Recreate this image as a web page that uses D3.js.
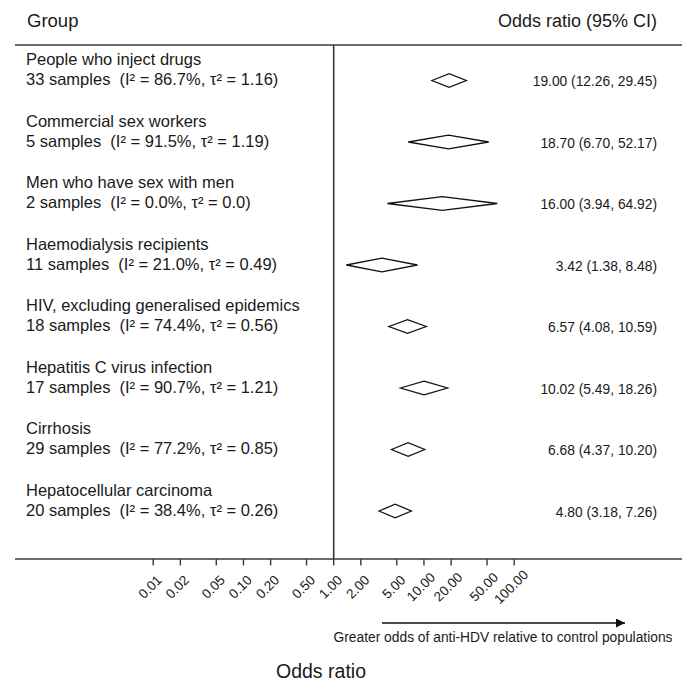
<!DOCTYPE html>
<html>
<head>
<meta charset="utf-8">
<script src="https://cdn.jsdelivr.net/npm/d3@7/dist/d3.min.js"></script>
<style>
  html, body { margin: 0; padding: 0; background: #fff; }
  svg { display: block; font-family: "Liberation Sans", Arial, Helvetica, sans-serif; }
  text { white-space: pre; fill: #1a1a1a; }
</style>
</head>
<body>
<svg id="chart" width="692" height="692"></svg>
<script>
const groups = [
  "People who inject drugs",
  "Commercial sex workers",
  "Men who have sex with men",
  "Haemodialysis recipients",
  "HIV, excluding generalised epidemics",
  "Hepatitis C virus infection",
  "Cirrhosis",
  "Hepatocellular carcinoma"
];
const samples = [33, 5, 2, 11, 18, 17, 29, 20];
const i2 = ["86.7%", "91.5%", "0.0%", "21.0%", "74.4%", "90.7%", "77.2%", "38.4%"];
const tau2 = ["1.16", "1.19", "0.0", "0.49", "0.56", "1.21", "0.85", "0.26"];
const oddsRatio = [19.00, 18.70, 16.00, 3.42, 6.57, 10.02, 6.68, 4.80];
const lower = [12.26, 6.70, 3.94, 1.38, 4.08, 5.49, 4.37, 3.18];
const upper = [29.45, 52.17, 64.92, 8.48, 10.59, 18.26, 10.20, 7.26];
const tickValues = [0.01, 0.02, 0.05, 0.10, 0.20, 0.50, 1.00, 2.00, 5.00, 10.00, 20.00, 50.00, 100.00];

const svg = d3.select("#chart");
const lineColor = "#3a3a3a";
const f2 = d3.format(".2f");

const leftX = 15, rightX = 682;
const topY = 45, axisY = 559;

const x = d3.scaleLog().domain([0.01, 100]).range([153.2, 514.2]);
const y = d3.scaleBand().domain(groups).range([topY, topY + 61.5 * groups.length]).padding(0);

// header
svg.append("text").attr("x", 27).attr("y", 27).attr("font-size", 18.5).text("Group");
svg.append("text").attr("x", 657).attr("y", 27).attr("font-size", 18)
  .attr("text-anchor", "end").text("Odds ratio (95% CI)");

// top rule
svg.append("line").attr("x1", leftX).attr("x2", rightX).attr("y1", topY).attr("y2", topY)
  .attr("stroke", lineColor).attr("stroke-width", 1.6);

// vertical line at OR = 1
svg.append("line").attr("x1", x(1)).attr("x2", x(1)).attr("y1", topY).attr("y2", axisY)
  .attr("stroke", lineColor).attr("stroke-width", 1.6);

// axis
const axisG = svg.append("g").attr("transform", `translate(0,${axisY})`);
axisG.append("line").attr("x1", leftX).attr("x2", rightX).attr("y1", 0).attr("y2", 0)
  .attr("stroke", lineColor).attr("stroke-width", 1.6);
const ticks = axisG.selectAll("g.tick").data(tickValues).enter().append("g").attr("class", "tick");
ticks.append("line").attr("x1", d => x(d)).attr("x2", d => x(d)).attr("y1", 0).attr("y2", 6.5)
  .attr("stroke", lineColor).attr("stroke-width", 1.4);
ticks.append("text")
  .attr("transform", d => `translate(${x(d) - 3},28) rotate(-45)`)
  .attr("text-anchor", "middle").attr("dominant-baseline", "central")
  .attr("font-size", 13.5).text(d => f2(d));

// rows
const rows = svg.selectAll("g.row").data(groups).enter().append("g").attr("class", "row");
rows.append("text").attr("x", 26).attr("y", d => y(d) + 20).attr("font-size", 16.5).text(d => d);
rows.append("text").attr("x", 26).attr("y", d => y(d) + 40).attr("font-size", 16.5)
  .text((d, i) => `${samples[i]} samples  (I² = ${i2[i]}, τ² = ${tau2[i]})`);

const halfH = 6.8;
rows.append("path")
  .attr("d", (d, i) => {
    const cy = y(d) + 35.5;
    return `M${x(lower[i])},${cy}L${x(oddsRatio[i])},${cy - halfH}L${x(upper[i])},${cy}L${x(oddsRatio[i])},${cy + halfH}Z`;
  })
  .attr("fill", "#fff").attr("stroke", "#111").attr("stroke-width", 1.3);

rows.append("text").attr("x", 657).attr("y", d => y(d) + 36.5)
  .attr("text-anchor", "end").attr("dominant-baseline", "central").attr("font-size", 13.8)
  .text((d, i) => `${f2(oddsRatio[i])} (${f2(lower[i])}, ${f2(upper[i])})`);

// arrow
const defs = svg.append("defs");
defs.append("marker").attr("id", "arrow").attr("viewBox", "0 0 10 10")
  .attr("refX", 10).attr("refY", 5).attr("markerWidth", 10).attr("markerHeight", 9)
  .attr("markerUnits", "userSpaceOnUse").attr("orient", "auto")
  .append("path").attr("d", "M0,0L10,5L0,10Z").attr("fill", "#111");
svg.append("line").attr("x1", 382).attr("x2", 625).attr("y1", 623).attr("y2", 623)
  .attr("stroke", "#111").attr("stroke-width", 1.5).attr("marker-end", "url(#arrow)");
svg.append("text").attr("x", 503).attr("y", 642).attr("font-size", 13.8).attr("text-anchor", "middle")
  .text("Greater odds of anti-HDV relative to control populations");

// x-axis title
svg.append("text").attr("x", 321).attr("y", 678).attr("font-size", 19.5).attr("text-anchor", "middle")
  .text("Odds ratio");
</script>
</body>
</html>
